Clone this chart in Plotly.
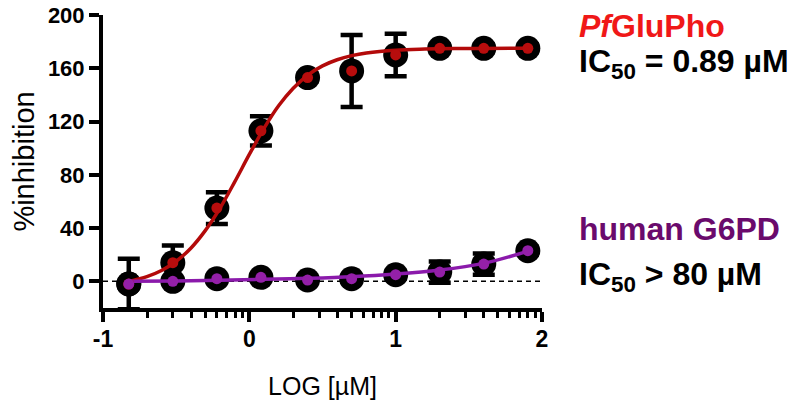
import plotly.graph_objects as go

# ---- data ----
conc_uM = [0.15, 0.3, 0.6, 1.2, 2.5, 5, 10, 20, 40, 80]
pf_mean = [-2, 14, 55, 113, 153, 158, 170, 175, 175, 175]
pf_err = [19, 13, 12, 11, 3, 27, 16, 3, 3, 3]
hu_mean = [-2, 0, 2, 3, 1, 2, 5, 7, 13, 23]
hu_err = [2, 2, 2, 2, 2, 2, 3, 8, 8, 3]

fit_logx = [-0.82, -0.7, -0.6, -0.5, -0.4, -0.3, -0.2, -0.1, 0.0, 0.1, 0.2, 0.3,
            0.4, 0.5, 0.6, 0.7, 0.8, 1.0, 1.2, 1.4, 1.6, 1.9]
pf_fit = [0.0, 3.6, 8.2, 15.1, 24.9, 38.3, 55.0, 74.7, 95.3, 114.9, 131.8, 145.0,
          154.9, 161.8, 166.4, 169.5, 171.5, 173.6, 174.4, 174.8, 174.9, 175.0]
hu_fitx = [-0.82, -0.5, -0.2, 0.1, 0.4, 0.7, 1.0, 1.3, 1.6, 1.9]
hu_fit = [0.0, 0.3, 0.8, 1.5, 2.3, 3.5, 5.5, 8.5, 13.5, 22.5]

x_tickvals = [0.1, 1, 10, 100]
x_ticktext = ["-1", "0", "1", "2"]
y_ticks = [0, 40, 80, 120, 160, 200]

RED_LINE = "#B30A0A"
RED_DOT = "#B80D0D"
PUR_LINE = "#8B1AAB"
PUR_DOT = "#9420A8"
RED_TXT = "#F01818"
PUR_TXT = "#6A0A6C"
FONT = "Liberation Sans, Arial, sans-serif"

fig = go.Figure()

# black markers with error bars
for mean, err in [(pf_mean, pf_err), (hu_mean, hu_err)]:
    fig.add_trace(go.Scatter(
        x=conc_uM, y=mean, mode="markers",
        marker=dict(size=25, color="black"),
        error_y=dict(type="data", array=err, visible=True, color="black",
                     thickness=4.5, width=11),
        showlegend=False, cliponaxis=False))

# fitted curves
fig.add_trace(go.Scatter(x=[10 ** v for v in fit_logx], y=pf_fit, mode="lines",
                         line=dict(color=RED_LINE, width=3.5, shape="spline"),
                         showlegend=False, cliponaxis=False))
fig.add_trace(go.Scatter(x=[10 ** v for v in hu_fitx], y=hu_fit, mode="lines",
                         line=dict(color=PUR_LINE, width=3.5, shape="spline"),
                         showlegend=False, cliponaxis=False))

# inner colored dots
fig.add_trace(go.Scatter(x=conc_uM, y=pf_mean, mode="markers",
                         marker=dict(size=11, color=RED_DOT),
                         showlegend=False, cliponaxis=False))
fig.add_trace(go.Scatter(x=conc_uM, y=hu_mean, mode="markers",
                         marker=dict(size=11, color=PUR_DOT),
                         showlegend=False, cliponaxis=False))

# dashed zero line
fig.add_shape(type="line", xref="paper", yref="y", x0=0, x1=1, y0=0, y1=0,
              line=dict(color="black", width=1.5, dash="5px,4px"), layer="below")

# page body has an 8px margin: compensate
OFF = 8
W, H = 800 - OFF, 404 - OFF
L, R, T, B = 103 - OFF, 258, 15 - OFF, 96


def px_x(px):
    return (px - OFF - L) / (W - L - R)


def px_y(py):
    return (H - B - (py - OFF)) / (H - T - B)


ann = [
    ("<b><i>Pf</i>GluPho</b>", RED_TXT, 26),
    ("<b>IC<sub>50</sub> = 0.89 \u00b5M</b>", "black", 63),
    ("<b>human G6PD</b>", PUR_TXT, 229),
    ("<b>IC<sub>50</sub> &gt; 80 \u00b5M</b>", "black", 276),
]
for text, col, py in ann:
    fig.add_annotation(text=text, xref="paper", yref="paper", x=px_x(577), y=px_y(py),
                       xanchor="left", yanchor="middle", showarrow=False,
                       font=dict(family=FONT, size=32, color=col))

fig.update_layout(
    width=W, height=H,
    margin=dict(l=L, r=R, t=T, b=B, autoexpand=False),
    plot_bgcolor="white", paper_bgcolor="white",
    font=dict(family=FONT, color="black"),
    xaxis=dict(
        type="log", range=[-1, 2], tickmode="array", tickvals=x_tickvals,
        ticktext=x_ticktext, showgrid=False, zeroline=False,
        showline=True, linewidth=4, linecolor="black",
        ticks="outside", ticklen=10, tickwidth=4, tickcolor="black",
        ticklabelstandoff=-3, ticklabeloverflow="allow",
        tickfont=dict(family=FONT, size=23, color="black", weight="bold"),
        minor=dict(ticks="outside", ticklen=6, tickwidth=3, tickcolor="black",
                   dtick="D1", showgrid=False),
        title=dict(text="LOG [\u00b5M]", font=dict(family=FONT, size=25, color="black"),
                   standoff=28),
    ),
    yaxis=dict(
        range=[-20, 200], tickmode="array", tickvals=y_ticks,
        showgrid=False, zeroline=False,
        showline=True, linewidth=4, linecolor="black",
        ticks="outside", ticklen=10, tickwidth=4, tickcolor="black",
        ticklabeloverflow="allow",
        tickfont=dict(family=FONT, size=22, color="black", weight="bold"),
        title=dict(text="%inhibition", font=dict(family=FONT, size=29, color="black"),
                   standoff=25),
    ),
)

fig.write_html("out.html")
